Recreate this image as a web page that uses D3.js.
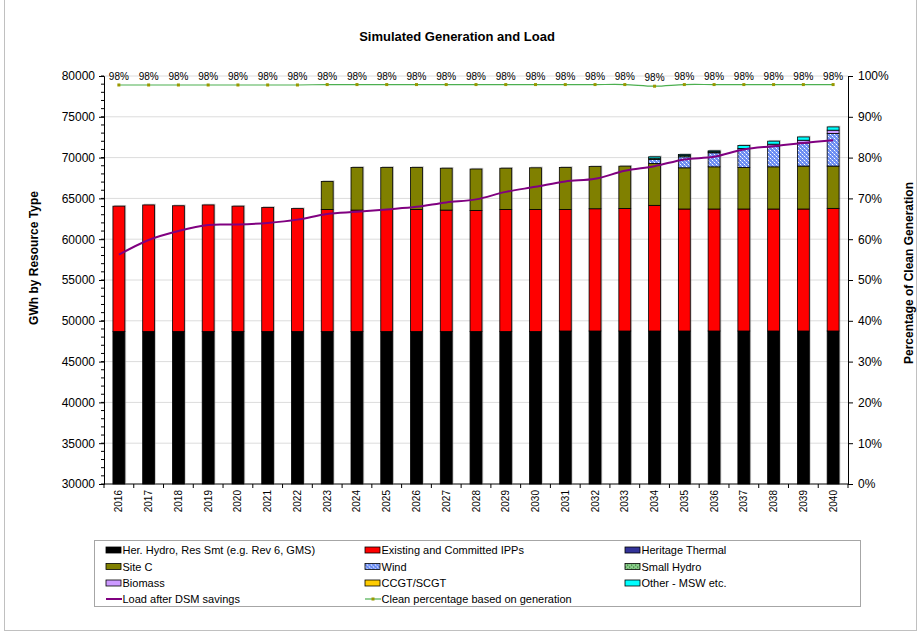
<!DOCTYPE html>
<html>
<head>
<meta charset="utf-8">
<style>
body { margin: 0; background: #fff; }
svg { font-family: Arial, "Liberation Sans", sans-serif; }
.axis .domain { stroke: #000; }
.axis line { stroke: #000; }
</style>
</head>
<body>
<svg width="918" height="632"></svg>
<script src="https://d3js.org/d3.v7.min.js"></script>
<script>

// ---- data ----
var years = ["2016","2017","2018","2019","2020","2021","2022","2023","2024","2025","2026","2027","2028",
             "2029","2030","2031","2032","2033","2034","2035","2036","2037","2038","2039","2040"];

var herHydro   = [48700,48700,48700,48700,48700,48700,48700,48700,48700,48700,48700,48700,48700,
                  48700,48700,48750,48750,48750,48750,48750,48750,48750,48750,48750,48750];
var ipps       = [15350,15500,15400,15500,15350,15200,15050,14950,14870,14950,14950,14870,14830,
                  14950,14950,14900,14980,15020,15400,14950,14950,14950,14950,14950,15030];
var herThermal = [0,0,0,0,0,0,0,0,0,0,0,0,0,0,0,0,0,0,0,0,0,0,0,0,0];
var siteC      = [0,0,0,0,0,0,0,3430,5230,5150,5150,5130,5070,
                  5050,5100,5150,5170,5180,5140,5050,5170,5100,5170,5260,5180];
var wind       = [0,0,0,0,0,0,0,0,0,0,0,0,0,0,0,0,0,0,490,1350,1720,2325,2530,2840,4000];
var smallHydro = [0,0,0,0,0,0,0,0,0,0,0,0,0,0,0,0,0,0,150,150,120,0,0,0,0];
var biomass    = [0,0,0,0,0,0,0,0,0,0,0,0,0,0,0,0,0,0,0,0,0,0,245,330,400];
var ccgt       = [0,0,0,0,0,0,0,0,0,0,0,0,0,0,0,0,0,0,0,0,0,0,0,0,0];
var otherMsw   = [0,0,0,0,0,0,0,0,0,0,0,0,0,0,0,0,0,0,170,140,120,365,370,400,400];

var loadAfterDsm = [58100,59900,61000,61750,61800,62000,62400,63100,63350,63650,63970,64500,64880,
                    65800,66420,67080,67400,68380,68950,69780,70100,71000,71400,71800,72140];
var cleanPct = [97.8,97.8,97.8,97.8,97.8,97.8,97.8,97.9,97.9,97.9,97.9,97.9,97.9,
                97.9,97.9,97.9,97.9,97.9,97.5,97.9,97.9,97.9,97.9,97.9,97.9];

var gwhTicks = [30000,35000,40000,45000,50000,55000,60000,65000,70000,75000,80000];
var pctTicks = [0,10,20,30,40,50,60,70,80,90,100];

var series = [
  {key: "herHydro",   name: "Her. Hydro, Res Smt (e.g. Rev 6, GMS)", values: herHydro,   fill: "#000000"},
  {key: "ipps",       name: "Existing and Committed IPPs",           values: ipps,       fill: "#ff0000"},
  {key: "herThermal", name: "Heritage Thermal",                      values: herThermal, fill: "#333399"},
  {key: "siteC",      name: "Site C",                                values: siteC,      fill: "#808000"},
  {key: "wind",       name: "Wind",                                  values: wind,       fill: "url(#windPat)"},
  {key: "smallHydro", name: "Small Hydro",                           values: smallHydro, fill: "url(#shPat)"},
  {key: "biomass",    name: "Biomass",                               values: biomass,    fill: "#cc99ff"},
  {key: "ccgt",       name: "CCGT/SCGT",                             values: ccgt,       fill: "#ffcc00"},
  {key: "otherMsw",   name: "Other - MSW etc.",                      values: otherMsw,   fill: "#00ffff"}
];

var svg = d3.select("svg");
var plotL = 104, plotR = 848, plotT = 76, plotB = 484;

// outer frame
svg.append("rect")
    .attr("x", 4.5).attr("y", -1).attr("width", 912).attr("height", 631.5)
    .attr("fill", "none").attr("stroke", "#c0c0c0");

// patterns
var defs = svg.append("defs");
var wp = defs.append("pattern").attr("id", "windPat")
    .attr("patternUnits", "userSpaceOnUse").attr("width", 4).attr("height", 4);
wp.append("rect").attr("width", 4).attr("height", 4).attr("fill", "#6d8ef2");
wp.append("rect").attr("x", 0).attr("y", 0).attr("width", 1).attr("height", 1).attr("fill", "#ffffff");
wp.append("rect").attr("x", 2).attr("y", 2).attr("width", 1).attr("height", 1).attr("fill", "#ffffff");
wp.append("rect").attr("x", 1).attr("y", 1).attr("width", 1).attr("height", 1).attr("fill", "#a9bcfa");
wp.append("rect").attr("x", 3).attr("y", 3).attr("width", 1).attr("height", 1).attr("fill", "#a9bcfa");
var sp = defs.append("pattern").attr("id", "shPat")
    .attr("patternUnits", "userSpaceOnUse").attr("width", 4).attr("height", 4);
sp.append("rect").attr("width", 4).attr("height", 4).attr("fill", "#8fcf8f");
sp.append("rect").attr("x", 0).attr("y", 0).attr("width", 1.3).attr("height", 1.3).attr("fill", "#2e7d32");
sp.append("rect").attr("x", 2).attr("y", 2).attr("width", 1.3).attr("height", 1.3).attr("fill", "#2e7d32");

var x = d3.scaleBand().domain(years).range([plotL, plotR]).paddingInner(0.6).paddingOuter(0.3);
var y = d3.scaleLinear().domain([30000, 80000]).range([plotB, plotT]).clamp(true);
var yp = d3.scaleLinear().domain([0, 100]).range([plotB, plotT]);

// title
svg.append("text")
    .attr("x", 457).attr("y", 41)
    .attr("text-anchor", "middle")
    .attr("font-size", 13).attr("font-weight", "bold")
    .text("Simulated Generation and Load");

// gridlines
svg.append("g").selectAll("line")
    .data(gwhTicks.slice(1))
    .enter().append("line")
    .attr("x1", plotL).attr("x2", plotR)
    .attr("y1", function(d) { return y(d); }).attr("y2", function(d) { return y(d); })
    .attr("stroke", "#dcdcdc").attr("stroke-width", 1);

// stacked data
var rows = years.map(function(yr, i) {
  var r = {year: yr};
  series.forEach(function(s) { r[s.key] = s.values[i]; });
  return r;
});
var stacked = d3.stack().keys(series.map(function(s) { return s.key; }))(rows);
var topLayer = stacked[stacked.length - 1];

// bar shadows
svg.append("g").selectAll("rect")
    .data(rows)
    .enter().append("rect")
    .attr("x", function(d) { return x(d.year) + 1.3; })
    .attr("width", x.bandwidth())
    .attr("y", function(d, i) { return y(topLayer[i][1]) - 1.2; })
    .attr("height", function(d, i) { return y(30000) - y(topLayer[i][1]); })
    .attr("fill", "#9a9a9a").attr("opacity", 0.55);

svg.append("g").selectAll("g")
    .data(stacked)
    .enter().append("g")
    .attr("fill", function(d, i) { return series[i].fill; })
  .selectAll("rect")
    .data(function(d) { return d.filter(function(p) { return p[1] - p[0] > 0; }); })
    .enter().append("rect")
    .attr("x", function(d) { return x(d.data.year); })
    .attr("width", x.bandwidth())
    .attr("y", function(d) { return y(d[1]); })
    .attr("height", function(d) { return y(d[0]) - y(d[1]); })
    .attr("stroke", "#000").attr("stroke-width", 0.8);

// left axis
var minor = d3.range(30000, 80001, 1000);
svg.append("g").selectAll("line")
    .data(minor)
    .enter().append("line")
    .attr("x1", plotL - 3).attr("x2", plotL)
    .attr("y1", function(d) { return y(d); }).attr("y2", function(d) { return y(d); })
    .attr("stroke", "#000");
svg.append("g")
    .attr("class", "axis")
    .attr("transform", "translate(" + plotL + ",0)")
    .call(d3.axisLeft(y).tickValues(gwhTicks).tickSizeOuter(0).tickSize(5).tickPadding(4).tickFormat(d3.format("d")))
    .call(function(g) { g.selectAll("text").attr("font-size", 12).attr("fill", "#000").attr("font-family", "Arial, 'Liberation Sans', sans-serif"); });

// right axis
svg.append("g")
    .attr("class", "axis")
    .attr("transform", "translate(" + plotR + ",0)")
    .call(d3.axisRight(yp).tickValues(pctTicks).tickSizeOuter(0).tickSize(5).tickPadding(5).tickFormat(function(d) { return d + "%"; }))
    .call(function(g) { g.selectAll("text").attr("font-size", 12).attr("fill", "#000").attr("font-family", "Arial, 'Liberation Sans', sans-serif"); });

// bottom axis
svg.append("line")
    .attr("x1", plotL).attr("x2", plotR).attr("y1", plotB).attr("y2", plotB)
    .attr("stroke", "#000");
svg.append("g").selectAll("line")
    .data(d3.range(years.length + 1))
    .enter().append("line")
    .attr("x1", function(i) { return plotL + i * x.step(); })
    .attr("x2", function(i) { return plotL + i * x.step(); })
    .attr("y1", plotB).attr("y2", plotB + 4)
    .attr("stroke", "#000");
svg.append("g").selectAll("text")
    .data(years)
    .enter().append("text")
    .attr("transform", function(d) { return "translate(" + (x(d) + x.bandwidth() / 2 + 3.5) + "," + (plotB + 6) + ") rotate(-90)"; })
    .attr("text-anchor", "end")
    .attr("font-size", 10)
    .text(function(d) { return d; });

// load line
var lineLoad = d3.line()
    .x(function(d, i) { return x(years[i]) + x.bandwidth() / 2; })
    .y(function(d) { return y(d); })
    .curve(d3.curveCardinal.tension(0));
svg.append("path")
    .datum(loadAfterDsm)
    .attr("d", lineLoad)
    .attr("fill", "none").attr("stroke", "#800080").attr("stroke-width", 2);

// clean % line
var lineClean = d3.line()
    .x(function(d, i) { return x(years[i]) + x.bandwidth() / 2; })
    .y(function(d) { return yp(d); })
    .curve(d3.curveCardinal.tension(0));
svg.append("path")
    .datum(cleanPct)
    .attr("d", lineClean)
    .attr("fill", "none").attr("stroke", "#4caf50").attr("stroke-width", 1.2);
svg.append("g").selectAll("rect")
    .data(cleanPct)
    .enter().append("rect")
    .attr("x", function(d, i) { return x(years[i]) + x.bandwidth() / 2 - 1.5; })
    .attr("y", function(d) { return yp(d) - 1.5; })
    .attr("width", 3).attr("height", 3)
    .attr("fill", "#999900");
svg.append("g").selectAll("text")
    .data(cleanPct)
    .enter().append("text")
    .attr("x", function(d, i) { return x(years[i]) + x.bandwidth() / 2; })
    .attr("y", function(d) { return yp(d) - 5; })
    .attr("text-anchor", "middle")
    .attr("font-size", 10)
    .text(function(d) { return Math.round(d) + "%"; });

// axis titles
svg.append("text")
    .attr("transform", "translate(38,258) rotate(-90)")
    .attr("text-anchor", "middle")
    .attr("font-size", 12).attr("font-weight", "bold")
    .text("GWh by Resource Type");
svg.append("text")
    .attr("transform", "translate(913,273) rotate(-90)")
    .attr("text-anchor", "middle")
    .attr("font-size", 12).attr("font-weight", "bold")
    .text("Percentage of Clean Generation");

// legend
var legend = svg.append("g");
legend.append("rect")
    .attr("x", 94.5).attr("y", 540.5).attr("width", 766).attr("height", 66)
    .attr("fill", "#fff").attr("stroke", "#a6a6a6");
var colX = [106, 365, 625];
var rowY = [550, 566.5, 583, 599];
var legendItems = series.map(function(s) { return {name: s.name, fill: s.fill, type: "bar"}; });
legendItems.push({name: "Load after DSM savings", type: "load"});
legendItems.push({name: "Clean percentage based on generation", type: "clean"});

var li = legend.selectAll("g.item")
    .data(legendItems)
    .enter().append("g")
    .attr("class", "item")
    .attr("transform", function(d, i) { return "translate(" + colX[i % 3] + "," + rowY[Math.floor(i / 3)] + ")"; });

li.filter(function(d) { return d.type === "bar"; })
  .append("rect")
    .attr("x", 0).attr("y", -3).attr("width", 15).attr("height", 6)
    .attr("fill", function(d) { return d.fill; })
    .attr("stroke", "#000").attr("stroke-width", 0.8);
li.filter(function(d) { return d.type === "load"; })
  .append("line")
    .attr("x1", 0).attr("x2", 16).attr("y1", 0).attr("y2", 0)
    .attr("stroke", "#800080").attr("stroke-width", 2);
var lc = li.filter(function(d) { return d.type === "clean"; });
lc.append("line")
    .attr("x1", 0).attr("x2", 16).attr("y1", 0).attr("y2", 0)
    .attr("stroke", "#4caf50").attr("stroke-width", 1.2);
lc.append("rect")
    .attr("x", 6.5).attr("y", -1.5).attr("width", 3).attr("height", 3)
    .attr("fill", "#999900");
li.append("text")
    .attr("x", 16.5).attr("y", 4)
    .attr("font-size", 11)
    .text(function(d) { return d.name; });

</script>
</body>
</html>
